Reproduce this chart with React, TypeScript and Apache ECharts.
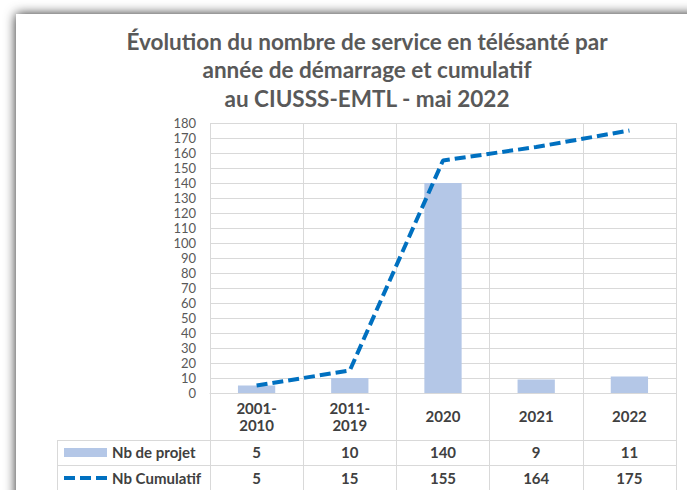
import React, { useEffect, useRef } from "react";
import * as echarts from "echarts";

const categories = ["2001-\n2010", "2011-\n2019", "2020", "2021", "2022"];
const nbProjet = [5, 10, 140, 9, 11];
const nbCumulatif = [5, 15, 155, 164, 175];
const titleText =
  "Évolution du nombre de service en télésanté par\nannée de démarrage et cumulatif\nau CIUSSS-EMTL - mai 2022";
const seriesNames = ["Nb de projet", "Nb Cumulatif"];

const FONT = "Lato, 'Noto Sans', sans-serif";
const GRID = "#d9d9d9";
const BAR = "#b4c7e7";
const LINE = "#0070c0";

export default function App() {
  const ref = useRef<HTMLDivElement>(null);
  useEffect(() => {
    if (!ref.current) return;
    const chart = echarts.init(ref.current, null, { renderer: "svg" });
    const valueAxis = (data: number[], margin: number) => ({
      type: "category",
      data: data.map(String),
      position: "bottom",
      gridIndex: 0,
      axisLine: { show: false },
      axisTick: { show: false },
      splitLine: { show: false },
      axisLabel: {
        margin,
        verticalAlign: "middle",
        fontFamily: FONT,
        fontSize: 15,
        fontWeight: "bold",
        color: "#404040",
        interval: 0,
      },
    });
    const legendText = (text: string, y: number) => ({
      type: "text",
      x: 112,
      y,
      silent: true,
      style: {
        text,
        fontFamily: FONT,
        fontSize: 15,
        fontWeight: "bold",
        fill: "#404040",
        align: "left",
        verticalAlign: "middle",
      },
    });
    chart.setOption({
      animation: false,
      backgroundColor: "#ffffff",
      title: {
        text: titleText,
        left: 362,
        top: 22,
        textAlign: "center",
        textStyle: {
          fontFamily: FONT,
          fontSize: 22.5,
          fontWeight: "bold",
          color: "#595959",
          lineHeight: 28.5,
        },
      },
      legend: { show: false, data: seriesNames },
      grid: { left: 210, right: 11, top: 123, bottom: 97, containLabel: false },
      xAxis: [
        {
          type: "category",
          data: categories,
          position: "bottom",
          boundaryGap: true,
          axisLine: { show: true, lineStyle: { color: GRID, width: 1 } },
          axisTick: { show: true, length: 100, interval: 0, lineStyle: { color: GRID, width: 1 } },
          splitLine: { show: true, interval: 0, lineStyle: { color: GRID, width: 1 } },
          axisLabel: {
            margin: 23,
            verticalAlign: "middle",
            fontFamily: FONT,
            fontSize: 15,
            fontWeight: "bold",
            color: "#404040",
            lineHeight: 17,
            interval: 0,
          },
        },
        valueAxis(nbProjet, 59),
        valueAxis(nbCumulatif, 85),
      ],
      yAxis: {
        type: "value",
        min: 0,
        max: 180,
        interval: 10,
        axisLine: { show: false },
        axisTick: { show: false },
        splitLine: { lineStyle: { color: GRID, width: 1 } },
        axisLabel: { margin: 14, fontFamily: FONT, fontSize: 13, color: "#595959" },
      },
      graphic: [
        {
          type: "rect",
          shape: { x: 16, y: 14, width: 800, height: 600 },
          style: { fill: "#ffffff", shadowBlur: 12, shadowColor: "rgba(0,0,0,0.85)" },
          z: -100,
          silent: true,
        },
        {
          type: "line",
          shape: { x1: 57, y1: 440.5, x2: 676, y2: 440.5 },
          style: { stroke: GRID, lineWidth: 1 },
          silent: true,
        },
        {
          type: "line",
          shape: { x1: 57, y1: 465.5, x2: 676, y2: 465.5 },
          style: { stroke: GRID, lineWidth: 1 },
          silent: true,
        },
        {
          type: "line",
          shape: { x1: 57.5, y1: 440, x2: 57.5, y2: 495 },
          style: { stroke: GRID, lineWidth: 1 },
          silent: true,
        },
        {
          type: "rect",
          shape: { x: 64, y: 448, width: 43, height: 9 },
          style: { fill: BAR },
          silent: true,
        },
        {
          type: "line",
          shape: { x1: 64, y1: 478, x2: 107, y2: 478 },
          style: { stroke: LINE, lineWidth: 4, lineDash: [11, 5] },
          silent: true,
        },
        legendText(seriesNames[0], 452),
        legendText(seriesNames[1], 478),
      ],
      series: [
        {
          name: seriesNames[0],
          type: "bar",
          data: nbProjet,
          barWidth: "40%",
          itemStyle: { color: BAR },
          xAxisIndex: 0,
        },
        {
          name: seriesNames[1],
          type: "line",
          data: nbCumulatif,
          symbol: "none",
          xAxisIndex: 0,
          lineStyle: { color: LINE, width: 4, type: [11, 5], cap: "butt" },
          itemStyle: { color: LINE },
        },
      ],
    });
    return () => chart.dispose();
  }, []);
  return (
    <div
      ref={ref}
      style={{ position: "absolute", left: 0, top: 0, width: 687, height: 490 }}
    />
  );
}
